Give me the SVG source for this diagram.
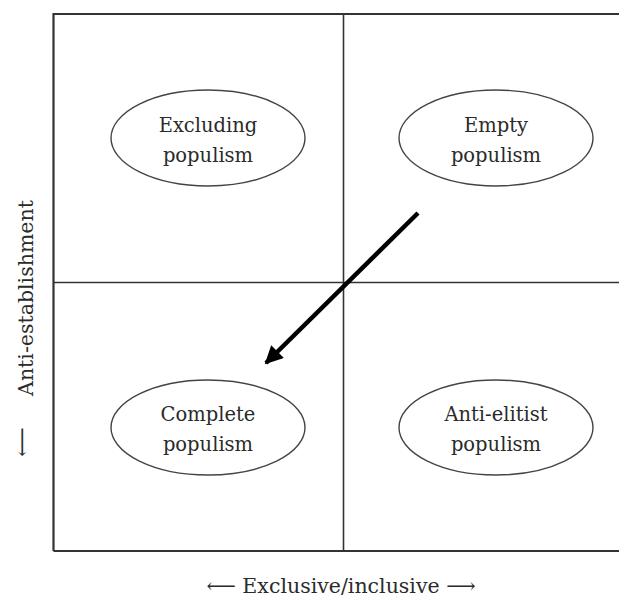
<svg xmlns="http://www.w3.org/2000/svg" width="619" height="601" viewBox="0 0 619 601">
<style>
.node ellipse{fill:#fff;stroke:#444;stroke-width:1.4}
.lbl{font-family:"DejaVu Serif","Liberation Serif","DejaVu Sans",serif;font-size:19.5px;fill:#2a2a2a;text-anchor:middle}
.ax{font-size:20.5px}
.grid{stroke:#333;fill:none}
</style>
<defs>
<marker id="ah" viewBox="0 0 10 10" refX="9" refY="5" markerWidth="4.4" markerHeight="4" orient="auto" markerUnits="strokeWidth">
<path d="M0,0 L10,5 L0,10 z" fill="#000"/>
</marker>
</defs>
<rect width="619" height="601" fill="#fff"/>
<g id="frame">
<path class="grid" d="M53.5,551 L53.5,14 L625,14" stroke-width="2.2"/>
<path class="grid" d="M53.5,551 L625,551" stroke-width="2.2"/>
<path class="grid" d="M343.5,14 L343.5,551" stroke-width="1.6"/>
<path class="grid" d="M53.5,282.5 L625,282.5" stroke-width="1.6"/>
</g>
<g id="n1" class="node">
<ellipse cx="208" cy="138" rx="97" ry="48"/>
<text class="lbl" x="208" y="132">Excluding</text>
<text class="lbl" x="208" y="162">populism</text>
</g>
<g id="n2" class="node">
<ellipse cx="496" cy="138" rx="97" ry="48"/>
<text class="lbl" x="496" y="132">Empty</text>
<text class="lbl" x="496" y="162">populism</text>
</g>
<g id="n3" class="node">
<ellipse cx="208" cy="427.5" rx="97" ry="47.5"/>
<text class="lbl" x="208" y="421">Complete</text>
<text class="lbl" x="208" y="451">populism</text>
</g>
<g id="n4" class="node">
<ellipse cx="496" cy="427.5" rx="97" ry="47.5"/>
<text class="lbl" x="496" y="421">Anti-elitist</text>
<text class="lbl" x="496" y="451">populism</text>
</g>
<g id="connectors">
<line x1="418" y1="213" x2="266" y2="363" stroke="#000" stroke-width="4.5" marker-end="url(#ah)"/>
</g>
<g id="axes">
<text class="lbl ax" x="341" y="593">⟵ Exclusive/inclusive ⟶</text>
<text class="lbl ax" transform="translate(33,298) rotate(-90)" x="0" y="0">Anti-establishment</text>
<text class="lbl ax" transform="translate(29,442) rotate(-90)" x="0" y="0">⟵</text>
</g>
</svg>
